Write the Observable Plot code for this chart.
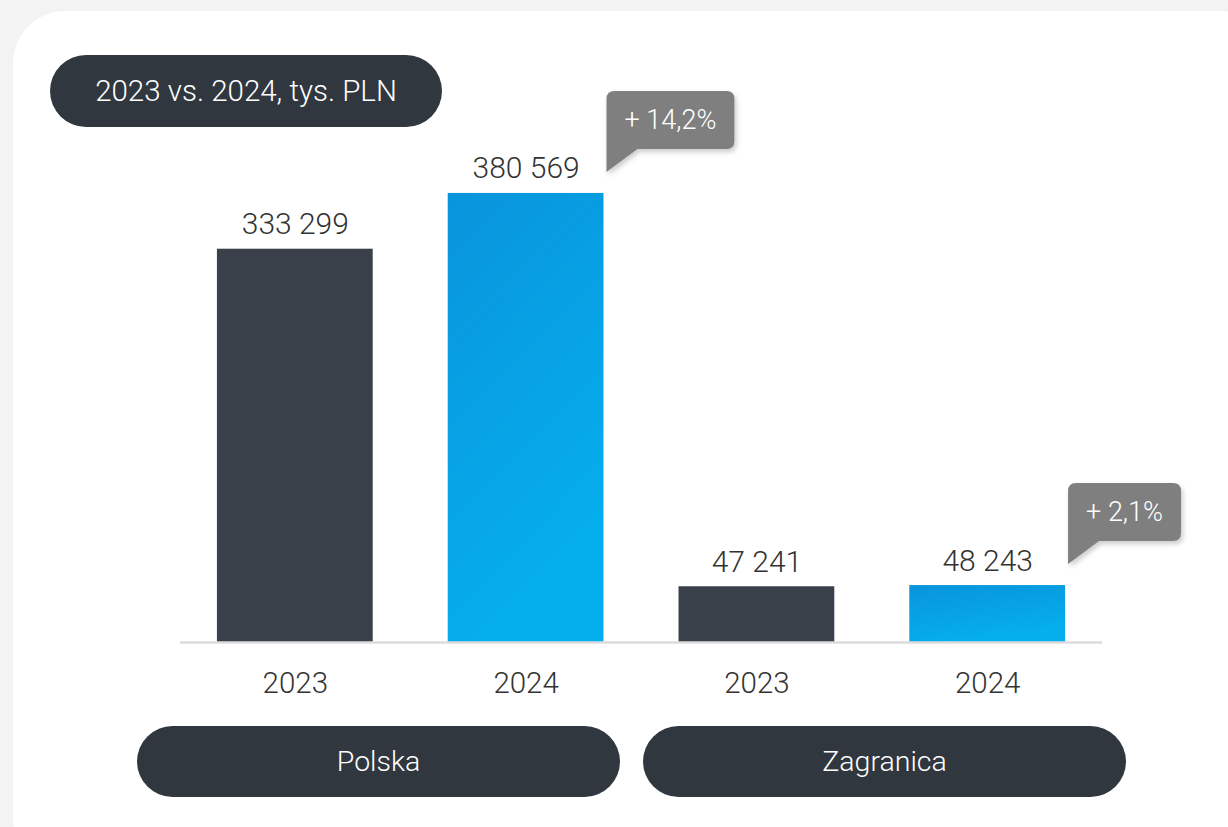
<!DOCTYPE html>
<html>
<head>
<meta charset="utf-8">
<script src="https://cdn.jsdelivr.net/npm/d3@7"></script>
<script src="https://cdn.jsdelivr.net/npm/@observablehq/plot@0.6"></script>
<style>
  html, body { margin: 0; padding: 0; width: 1228px; height: 827px; overflow: hidden; background: #f3f3f3; font-family: "Roboto", sans-serif; font-weight: 300; }
  #card { position: absolute; left: 13px; top: 11px; width: 1260px; height: 860px; background: #ffffff; border-radius: 52px; }
  #chart { position: absolute; left: 0; top: 0; }
  .pill { position: absolute; height: 72px; border-radius: 36px; background: #30373f; color: #ffffff; display: flex; align-items: center; justify-content: center; font-size: 28.5px; font-weight: 300; }
</style>
</head>
<body>
<div id="card"></div>
<div id="title" class="pill" style="left:50px; top:55px; width:392px; font-size:29.5px;"></div>
<div id="chart"></div>
<div id="groupPills"></div>
<script>
// ---- data ----
const regions = ["Polska", "Polska", "Zagranica", "Zagranica"];
const years = ["2023", "2024", "2023", "2024"];
const values = [333299, 380569, 47241, 48243];
const groupLabels = ["Polska", "Zagranica"];
const titleText = "2023 vs. 2024, tys. PLN";

const data = values.map((v, i) => ({ key: regions[i] + " " + years[i], region: regions[i], year: years[i], value: v }));
const fmtNum = v => d3.format(",")(v).replace(/,/g, " ");
const fmtPct = p => "+ " + d3.format(".1f")(p).replace(".", ",") + "%";

document.getElementById("title").textContent = titleText;

const plot = Plot.plot({
  width: 1228,
  height: 827,
  marginLeft: 180,
  marginRight: 126,
  marginTop: 170,
  marginBottom: 185,
  style: { fontFamily: "Roboto, sans-serif", fontWeight: 300, background: "transparent", color: "#333333", overflow: "visible" },
  x: { domain: data.map(d => d.key), paddingInner: 0.325, paddingOuter: 0.16, round: false, label: null },
  y: { domain: [0, 400000], axis: null },
  marks: [
    Plot.barY(data.filter(d => d.year === "2023"), { x: "key", y: "value", fill: "#3a4049" }),
    Plot.barY(data.filter(d => d.year === "2024"), { x: "key", y: "value", fill: "url(#blueGrad)" }),
    Plot.ruleY([0], { stroke: "#dcdcdc", strokeWidth: 2.5 }),
    Plot.axisX({ tickSize: 0, tickPadding: 30, fontSize: 29.5, fill: "#333333", label: null, tickFormat: k => k.split(" ")[1] }),
    Plot.text(data, { x: "key", y: "value", text: d => fmtNum(d.value), lineAnchor: "bottom", dy: -15, fontSize: 30, fill: "#333333" })
  ]
});
document.getElementById("chart").appendChild(plot);

const svg = d3.select(plot);
const defs = svg.insert("defs", ":first-child");
const grad = defs.append("linearGradient").attr("id", "blueGrad")
  .attr("x1", 0).attr("y1", 0).attr("x2", 0.35).attr("y2", 1);
grad.append("stop").attr("offset", "0%").attr("stop-color", "#0994dc");
grad.append("stop").attr("offset", "100%").attr("stop-color", "#05afed");
const flt = defs.append("filter").attr("id", "shadow").attr("x", "-20%").attr("y", "-20%").attr("width", "150%").attr("height", "160%");
flt.append("feDropShadow").attr("dx", 2).attr("dy", 3).attr("stdDeviation", 2.5).attr("flood-color", "#000").attr("flood-opacity", 0.2);

// callouts via the plot's scales
const xs = plot.scale("x"), ys = plot.scale("y");
for (let i = 1; i < data.length; i += 2) {
  const prev = data[i - 1], cur = data[i];
  const pct = (cur.value / prev.value - 1) * 100;
  const tipX = xs.apply(cur.key) + xs.bandwidth + 3;
  const tipY = ys.apply(cur.value) - 21;
  const y1 = tipY - 23, y0 = y1 - 58;
  const g = svg.append("g");
  const path = g.append("path").attr("fill", "#7f7f7f").attr("filter", "url(#shadow)");
  const t = g.append("text").text(fmtPct(pct)).attr("fill", "#ffffff")
    .attr("font-size", 27).attr("font-weight", 300).attr("text-anchor", "middle")
    .attr("dominant-baseline", "central");
  const w = t.node().getComputedTextLength() + 36;
  const x0 = tipX, x1 = tipX + w, r = 8;
  path.attr("d", `M${x0},${tipY} L${x0},${y0 + r} Q${x0},${y0} ${x0 + r},${y0} L${x1 - r},${y0} Q${x1},${y0} ${x1},${y0 + r} L${x1},${y1 - r} Q${x1},${y1} ${x1 - r},${y1} L${x0 + 31},${y1} Z`);
  t.attr("x", (x0 + x1) / 2).attr("y", (y0 + y1) / 2);
}

// group pills (layout)
const pillBox = [[137, 483], [643, 483]];
groupLabels.forEach((lab, i) => {
  const d = document.createElement("div");
  d.className = "pill";
  d.style.left = pillBox[i][0] + "px";
  d.style.top = "726px";
  d.style.width = pillBox[i][1] + "px";
  d.style.height = "71px";
  d.textContent = lab;
  document.getElementById("groupPills").appendChild(d);
});
</script>
</body>
</html>
